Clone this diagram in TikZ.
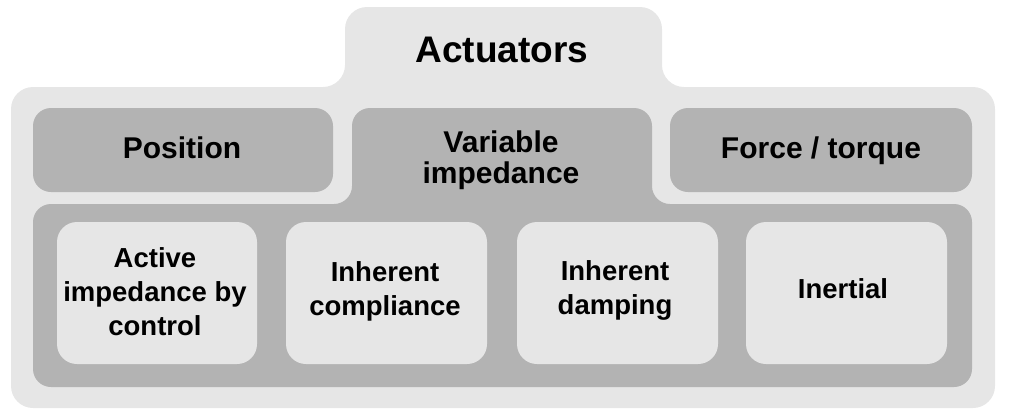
\documentclass[tikz,border=0pt]{standalone}
\usepackage{fontspec}
\setmainfont{Liberation Sans}
\definecolor{lightg}{RGB}{230,230,230}
\definecolor{darkg}{RGB}{179,179,179}
\begin{document}
\begin{tikzpicture}[x=1pt,y=-1pt,
  outerbox/.style={fill=lightg,rounded corners=22pt},
  midbox/.style={fill=darkg,rounded corners=18pt},
  innerbox/.style={fill=lightg,rounded corners=20pt},
  toplabel/.style={font=\bfseries\fontsize{37}{40}\selectfont},
  midlabel/.style={font=\bfseries\fontsize{30}{31}\selectfont,align=center},
  innerlabel/.style={font=\bfseries\fontsize{27.5}{34}\selectfont,align=center}]
\useasboundingbox (0,0) rectangle (1017,418);
% outer shape with tab
\fill[outerbox] (11,87) -- (345,87) -- (345,7) -- (662,7) -- (662,87) -- (995,87) -- (995,408) -- (11,408) -- cycle;
% middle level
\fill[midbox] (33,108) rectangle (333,192);
\fill[midbox] (670,108) rectangle (972,192);
\fill[midbox] (33,204) -- (352,204) -- (352,108) -- (652,108) -- (652,204) -- (972,204) -- (972,387) -- (33,387) -- cycle;
% inner boxes
\fill[innerbox] (57,222) rectangle (257,364);
\fill[innerbox] (286,222) rectangle (487,364);
\fill[innerbox] (517,222) rectangle (718,364);
\fill[innerbox] (746,222) rectangle (947,364);
% labels
\node[toplabel,anchor=base] (act) at (502,62) {Actuators};
\node[midlabel,anchor=base] (pos) at (182,158) {Position};
\node[midlabel] (varimp) at (501,160) {Variable\\impedance};
\node[midlabel,anchor=base] (force) at (821,158) {Force / torque};
\node[innerlabel] (active) at (155,292) {Active\\impedance by\\control};
\node[innerlabel] (compl) at (385,291) {Inherent\\compliance};
\node[innerlabel] (damp) at (615,290) {Inherent\\damping};
\node[innerlabel,anchor=base] (inert) at (843,298) {Inertial};
\end{tikzpicture}
\end{document}
